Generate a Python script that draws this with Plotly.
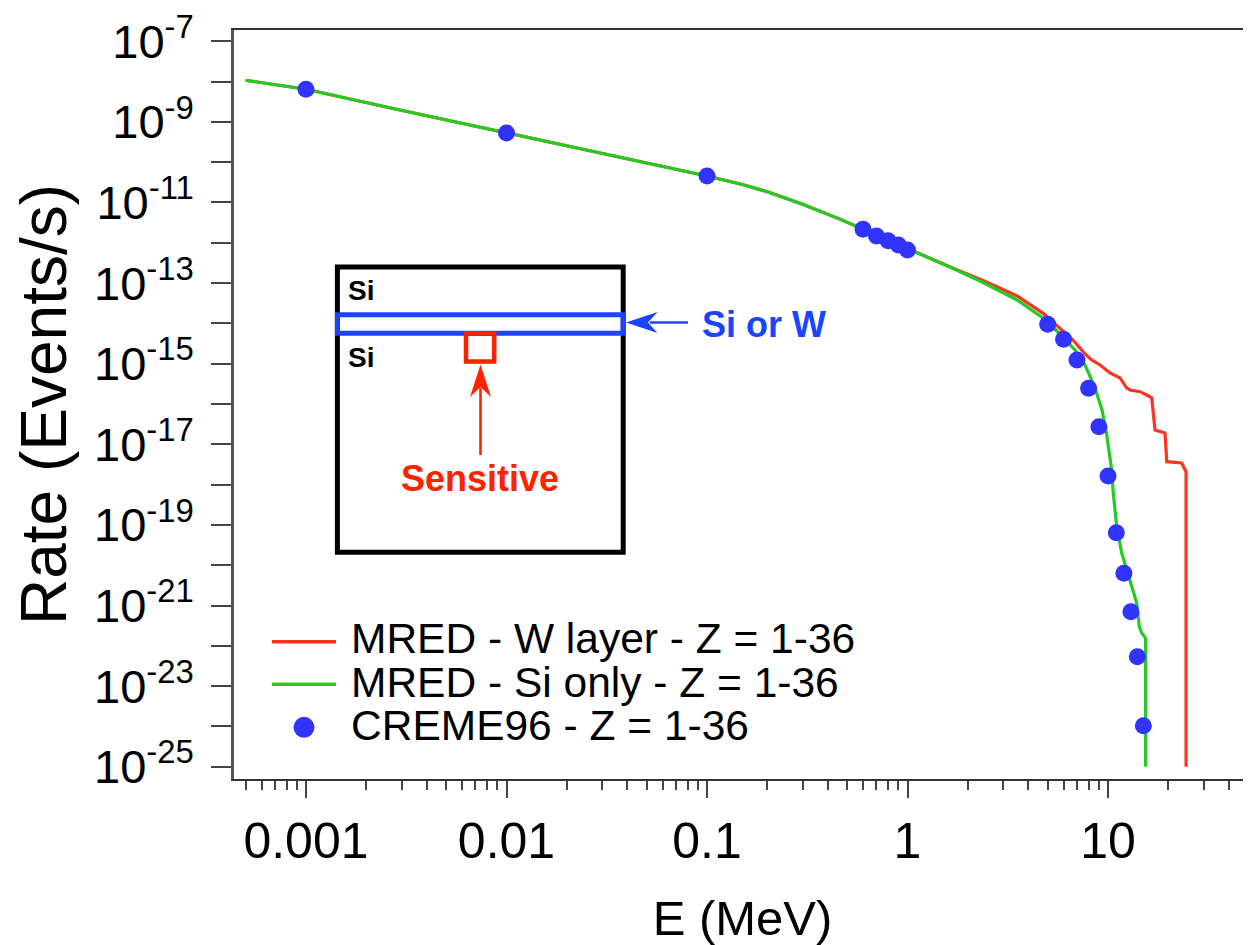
import plotly.graph_objects as go

# ---------------- data ----------------
creme_E = [0.001, 0.01, 0.1, 0.6, 0.7, 0.8, 0.9, 1.0,
           5, 6, 7, 8, 9, 10, 11, 12, 13, 14, 15]
creme_R = [6.44e-9, 5.31e-10, 4.55e-11, 2.16e-12, 1.48e-12, 1.13e-12, 8.81e-13, 6.62e-13,
           9.5e-15, 4.03e-15, 1.24e-15, 2.45e-16, 2.73e-17, 1.63e-18, 6.4e-20, 6.3e-21,
           7.0e-22, 5.37e-23, 1.04e-24]

si_E = [5.0e-4, 0.001, 0.00294, 0.01, 0.0292, 0.1, 0.15, 0.2, 0.3, 0.46, 0.6, 1.0, 1.63,
        2.38, 3.52, 4.74, 5.77, 6.84, 7.68, 8.61, 9.33, 9.77, 10.23, 10.43, 10.62,
        11.05, 11.7, 12.88, 13.9, 14.32, 14.72, 15.4, 15.4]
si_R = [1.08e-8, 6.44e-9, 1.97e-9, 5.31e-10, 1.69e-10, 4.55e-11, 2.80e-11, 1.85e-11,
        9.08e-12, 3.87e-12, 2.16e-12, 7.02e-13, 2.51e-13, 1.035e-13, 3.81e-14, 1.36e-14,
        5.46e-15, 2.19e-15, 9.29e-16, 2.49e-16, 7.1e-17, 2.26e-17, 5.42e-18, 2.3e-18,
        6.19e-19, 9.02e-20, 2.01e-20, 4.3e-21, 1.15e-21, 2.98e-22, 2.08e-22, 1.56e-22, 1e-25]

w_E = [5.0e-4, 0.001, 0.00294, 0.01, 0.0292, 0.1, 0.15, 0.2, 0.3, 0.46, 0.6, 1.0, 1.63,
       2.38, 3.52, 4.75, 5.77, 6.69, 7.68, 8.29, 9.12, 10.23, 11.48, 12.4, 12.88,
       14.45, 15.6, 16.52, 17.15, 19.23, 19.63, 23.3, 24.5, 24.5]
w_R = [1.08e-8, 6.44e-9, 1.97e-9, 5.31e-10, 1.69e-10, 4.55e-11, 2.80e-11, 1.85e-11,
       9.08e-12, 3.87e-12, 2.16e-12, 7.02e-13, 2.51e-13, 1.16e-13, 4.79e-14, 1.78e-14,
       7.69e-15, 3.87e-15, 1.74e-15, 1.24e-15, 9.29e-16, 5.88e-16, 4.42e-16, 2.49e-16,
       2.22e-16, 2.02e-16, 1.67e-16, 1.41e-16, 2.26e-17, 1.91e-17, 3.7e-18, 3.44e-18,
       2.09e-18, 1e-25]

x_tickvals = [0.001, 0.01, 0.1, 1, 10]
x_ticktext = ["0.001", "0.01", "0.1", "1", "10"]
y_label_exponents = [-7, -9, -11, -13, -15, -17, -19, -21, -23, -25]
y_minor_exponents = [-8, -10, -12, -14, -16, -18, -20, -22, -24]
legend_names = ["MRED - W layer - Z = 1-36", "MRED - Si only - Z = 1-36", "CREME96 - Z = 1-36"]

RED = "#ff3322"
GREEN = "#22cc22"
BLUE = "#3333ff"
FONT = "Liberation Sans, Arial, Helvetica, sans-serif"

# ---------------- figure ----------------
fig = go.Figure()
fig.add_trace(go.Scatter(x=w_E, y=w_R, mode="lines", name=legend_names[0],
                         line=dict(color=RED, width=3.2), showlegend=False))
fig.add_trace(go.Scatter(x=si_E, y=si_R, mode="lines", name=legend_names[1],
                         line=dict(color=GREEN, width=3.2), showlegend=False))
fig.add_trace(go.Scatter(x=creme_E, y=creme_R, mode="markers", name=legend_names[2],
                         marker=dict(color=BLUE, size=17, line=dict(width=0)),
                         showlegend=False))

minor_vals = [d * 10.0 ** p for p in range(-4, 2) for d in range(2, 10)]
minor_vals = [v for v in minor_vals if 4.4e-4 < v < 51.6]

y_tickvals = [10.0 ** e for e in y_label_exponents]
y_ticktext = ["10<sup>%d</sup>" % e for e in y_label_exponents]
y_minorvals = [10.0 ** e for e in y_minor_exponents]

# page body has an 8px margin; figure is sized/offset to compensate
OFF = 8
L, R_, T, B = 234, 1251, 30, 779   # plot area in page pixels
W, H = R_ - L, B - T
FIG_W, FIG_H = 1243, 937


def fx(p):
    return (p - L) / W


def fy(p):
    return (B - p) / H


fig.update_layout(
    width=FIG_W, height=FIG_H,
    margin=dict(l=L - OFF, r=FIG_W - (R_ - OFF), t=T - OFF, b=FIG_H - (B - OFF), pad=0),
    paper_bgcolor="white", plot_bgcolor="white",
    font=dict(family=FONT, color="black"),
    showlegend=False,
    xaxis=dict(type="log", range=[-3.359, 1.713],
               tickmode="array", tickvals=x_tickvals, ticktext=x_ticktext,
               ticks="outside", ticklen=17, tickwidth=2, tickcolor="#444",
               showline=True, linecolor="#333", linewidth=2, mirror=True,
               showgrid=False, zeroline=False,
               tickfont=dict(size=50, family=FONT, color="black"),
               ticklabelstandoff=0, ticklabeloverflow="allow",
               minor=dict(tickmode="array", tickvals=minor_vals, ticks="outside",
                          ticklen=9, tickwidth=1.5, tickcolor="#444", showgrid=False),
               title=dict(text="E (MeV)", font=dict(size=49, family=FONT), standoff=34)),
    yaxis=dict(type="log", range=[-25.305, -6.72],
               tickmode="array", tickvals=y_tickvals, ticktext=y_ticktext,
               ticks="outside", ticklen=20, tickwidth=2, tickcolor="#444",
               showline=True, linecolor="#555", linewidth=2.5, mirror=False,
               showgrid=False, zeroline=False,
               tickfont=dict(size=47, family=FONT, color="black"),
               ticklabelstandoff=8, ticklabeloverflow="allow",
               minor=dict(tickmode="array", tickvals=y_minorvals, ticks="outside",
                          ticklen=20, tickwidth=2, tickcolor="#444", showgrid=False),
               title=dict(text="Rate (Events/s)", font=dict(size=64, family=FONT), standoff=12)),
)

shapes = []
# inset diagram
shapes.append(dict(type="rect", xref="paper", yref="paper",
                   x0=fx(337.4), x1=fx(623.2), y0=fy(552.3), y1=fy(267),
                   line=dict(color="black", width=5)))
shapes.append(dict(type="rect", xref="paper", yref="paper",
                   x0=fx(337.4), x1=fx(623.2), y0=fy(333.3), y1=fy(314.8),
                   line=dict(color="#1a44ff", width=5)))
shapes.append(dict(type="rect", xref="paper", yref="paper",
                   x0=fx(466), x1=fx(494.2), y0=fy(361.6), y1=fy(333.8),
                   line=dict(color="#ff2200", width=4.5)))
# red arrow
shapes.append(dict(type="line", xref="paper", yref="paper",
                   x0=fx(480.5), x1=fx(480.5), y0=fy(455), y1=fy(388),
                   line=dict(color="#ff2200", width=2.6)))
pts = [(480.5, 364.5), (491, 397), (480.5, 387), (470, 397)]
shapes.append(dict(type="path", xref="paper", yref="paper",
                   path="M " + " L ".join("%f,%f" % (fx(a), fy(b)) for a, b in pts) + " Z",
                   fillcolor="#ff2200", line=dict(width=0)))
# blue arrow
shapes.append(dict(type="line", xref="paper", yref="paper",
                   x0=fx(688), x1=fx(650), y0=fy(322.5), y1=fy(322.5),
                   line=dict(color="#1a44ff", width=2.6)))
pts = [(626, 322.5), (657.5, 312), (648, 322.5), (657.5, 333)]
shapes.append(dict(type="path", xref="paper", yref="paper",
                   path="M " + " L ".join("%f,%f" % (fx(a), fy(b)) for a, b in pts) + " Z",
                   fillcolor="#1a44ff", line=dict(width=0)))
# legend symbols
shapes.append(dict(type="line", xref="paper", yref="paper",
                   x0=fx(272), x1=fx(336), y0=fy(641.7), y1=fy(641.7),
                   line=dict(color=RED, width=3.5)))
shapes.append(dict(type="line", xref="paper", yref="paper",
                   x0=fx(272), x1=fx(336), y0=fy(684.3), y1=fy(684.3),
                   line=dict(color=GREEN, width=3.5)))
shapes.append(dict(type="circle", xref="paper", yref="paper",
                   x0=fx(293.5), x1=fx(314.5), y0=fy(737.8), y1=fy(716.8),
                   fillcolor=BLUE, line=dict(width=0)))
fig.update_layout(shapes=shapes)

annotations = []
for name, yy in zip(legend_names, [638, 682, 725]):
    annotations.append(dict(text=name, xref="paper", yref="paper", x=fx(349), y=fy(yy),
                            xanchor="left", yanchor="middle", showarrow=False,
                            font=dict(size=42.5, family=FONT, color="black")))
annotations.append(dict(text="<b>Si</b>", xref="paper", yref="paper", x=fx(346), y=fy(290),
                        xanchor="left", yanchor="middle", showarrow=False,
                        font=dict(size=28, family=FONT, color="black")))
annotations.append(dict(text="<b>Si</b>", xref="paper", yref="paper", x=fx(346), y=fy(357),
                        xanchor="left", yanchor="middle", showarrow=False,
                        font=dict(size=28, family=FONT, color="black")))
annotations.append(dict(text="<b>Si or W</b>", xref="paper", yref="paper", x=fx(700), y=fy(324),
                        xanchor="left", yanchor="middle", showarrow=False,
                        font=dict(size=36, family=FONT, color="#1a44ff")))
annotations.append(dict(text="<b>Sensitive</b>", xref="paper", yref="paper", x=fx(480), y=fy(478),
                        xanchor="center", yanchor="middle", showarrow=False,
                        font=dict(size=36, family=FONT, color="#ff2200")))
fig.update_layout(annotations=annotations)

fig.write_html("out.html")
